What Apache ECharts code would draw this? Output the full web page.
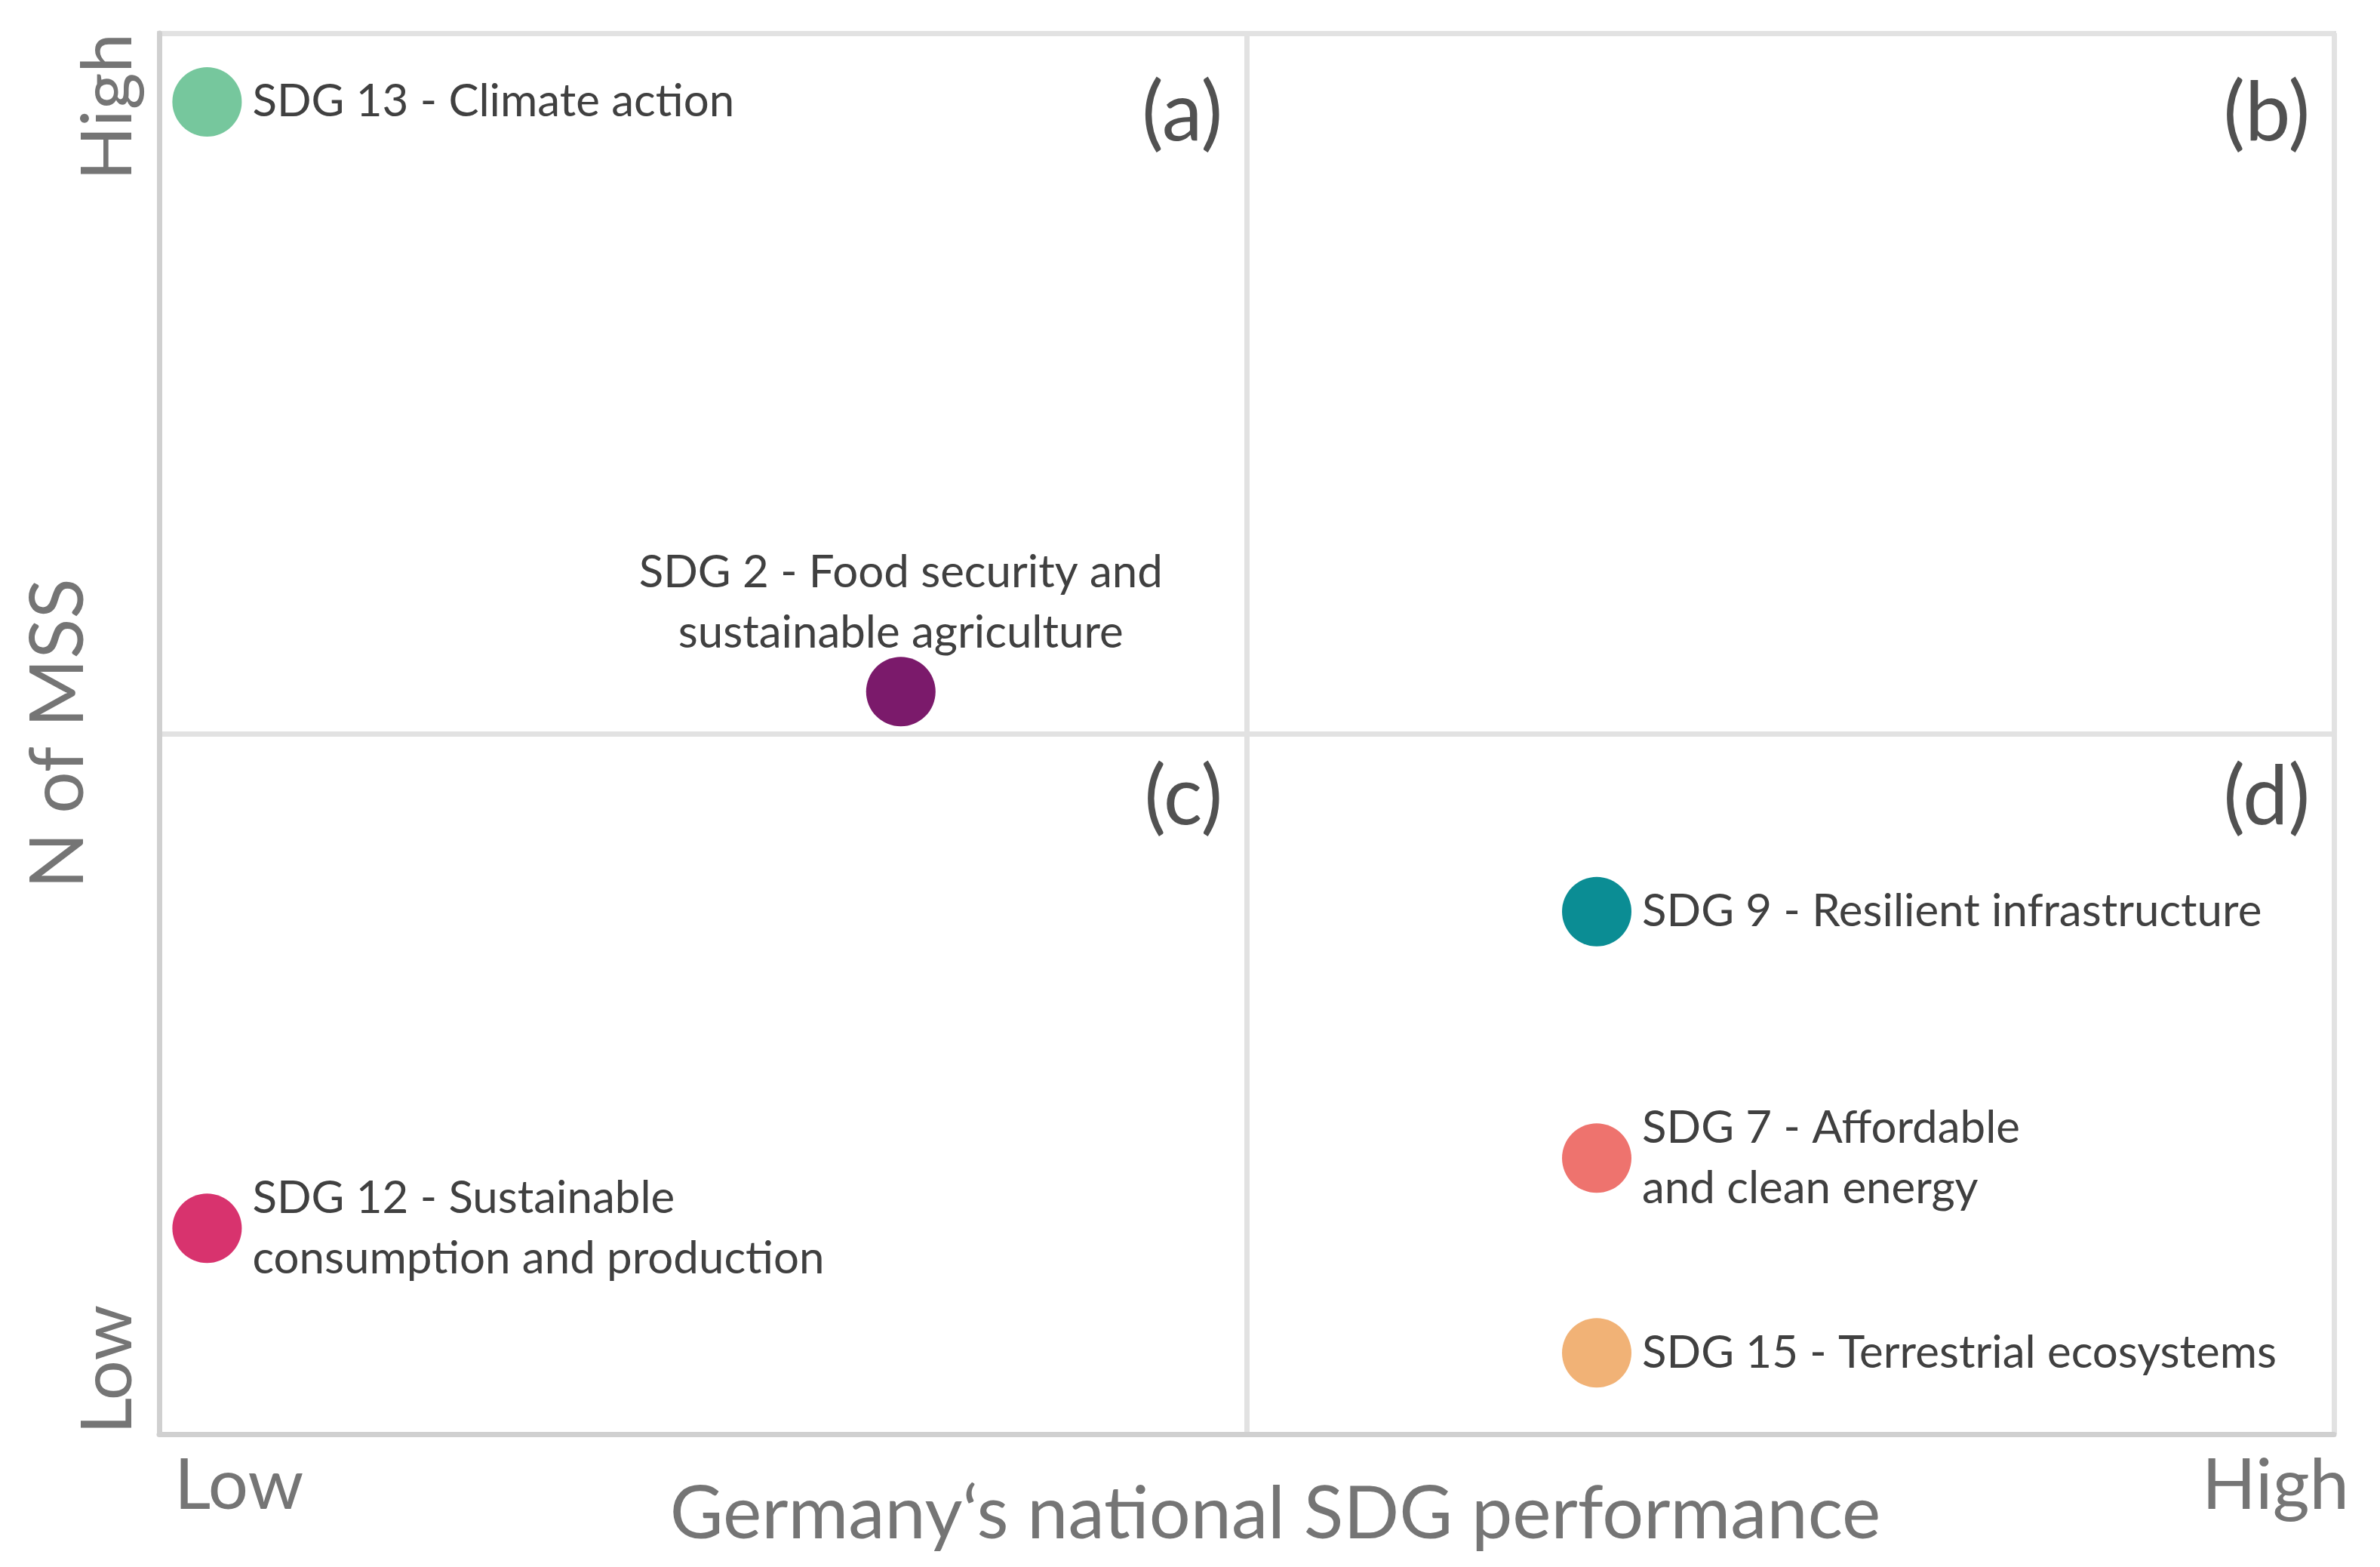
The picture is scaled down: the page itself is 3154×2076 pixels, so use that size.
<!DOCTYPE html>
<html>
<head>
<meta charset="utf-8">
<script src="https://cdn.jsdelivr.net/npm/echarts@6/dist/echarts.min.js"></script>
<style>
html,body{margin:0;padding:0;background:#ffffff;}
#chart{width:3154px;height:2076px;}
</style>
</head>
<body>
<div id="chart"></div>
<script>
// ---- data ----
const sdgLabels = [
  'SDG 13 - Climate action',
  'SDG 2 - Food security and\nsustainable agriculture',
  'SDG 12 - Sustainable\nconsumption and production',
  'SDG 9 - Resilient infrastructure',
  'SDG 7 - Affordable\nand clean energy',
  'SDG 15 - Terrestrial ecosystems'
];
const performance = [2.2, 34.1, 2.2, 66.1, 66.1, 66.1];   // x: Germany's national SDG performance (0 = low, 100 = high)
const nMSS = [95.1, 53.0, 14.7, 37.3, 19.7, 5.8];          // y: N of MSS (0 = low, 100 = high)
const sdgColors = ['#76c79d', '#7b1a6b', '#d8336e', '#0b8d94', '#ee736e', '#f1b276'];
const labelSides = ['right', 'top', 'right', 'right', 'right', 'right'];

const quadrantNames = ['(a)', '(b)', '(c)', '(d)'];
const quadrantX = [48.9, 98.9, 48.9, 98.9];
const quadrantY = [94.2, 94.2, 45.4, 45.4];

const axisLevelLabels = ['Low', 'High'];
const xAxisTitle = 'Germany‘s national SDG performance';
const yAxisTitle = 'N of MSS';

// ---- chart ----
const FONT = 'Lato';
const AXIS_GRAY = '#757575';
const chart = echarts.init(document.getElementById('chart'), null, {renderer: 'canvas'});

const points = performance.map((x, i) => ({
  value: [x, nMSS[i]],
  name: sdgLabels[i],
  itemStyle: {color: sdgColors[i], opacity: 1},
  label: labelSides[i] === 'top'
    ? {position: 'top', align: 'center', distance: -8}
    : {position: 'right', align: 'left', distance: 14}
}));

const quadrants = quadrantNames.map((q, i) => ({value: [quadrantX[i], quadrantY[i]], name: q}));

chart.setOption({
  backgroundColor: '#ffffff',
  animation: false,
  grid: {
    left: 211, right: 61, top: 44, bottom: 176,
    outerBoundsMode: 'none', containLabel: false,
    show: true, borderColor: '#e0e0e0', borderWidth: 6, backgroundColor: 'transparent'
  },
  xAxis: {
    type: 'value', min: 0, max: 100, interval: 50,
    axisLine: {show: true, onZero: false, lineStyle: {color: '#d0d0d0', width: 7}},
    axisTick: {show: false},
    splitLine: {show: true, lineStyle: {color: '#e2e2e2', width: 7}},
    axisLabel: {
      show: true, margin: 22, color: AXIS_GRAY, fontFamily: FONT, fontSize: 94,
      alignMinLabel: 'left', alignMaxLabel: 'right',
      formatter: v => v === 0 ? '{lo|' + axisLevelLabels[0] + '}' : (v === 100 ? '{hi|' + axisLevelLabels[1] + '}' : ''),
      rich: {
        lo: {color: AXIS_GRAY, fontFamily: FONT, fontSize: 94, padding: [0, 0, 0, 20]},
        hi: {color: AXIS_GRAY, fontFamily: FONT, fontSize: 94, padding: [0, -20, 0, 0]}
      }
    },
    name: xAxisTitle, nameLocation: 'middle', nameGap: 58, nameMoveOverlap: false,
    nameTextStyle: {color: AXIS_GRAY, fontFamily: FONT, fontSize: 97, padding: [0, 0, 0, 76]}
  },
  yAxis: {
    type: 'value', min: 0, max: 100, interval: 50,
    axisLine: {show: true, onZero: false, lineStyle: {color: '#d0d0d0', width: 7}},
    axisTick: {show: false},
    splitLine: {show: true, lineStyle: {color: '#e2e2e2', width: 7}},
    axisLabel: {
      show: true, rotate: 90, margin: 20, color: AXIS_GRAY, fontFamily: FONT, fontSize: 94,
      verticalAlign: 'bottom',
      alignMinLabel: 'left', alignMaxLabel: 'right',
      formatter: v => v === 0 ? axisLevelLabels[0] : (v === 100 ? axisLevelLabels[1] : '')
    },
    name: yAxisTitle, nameLocation: 'middle', nameGap: 84, nameRotate: 90, nameMoveOverlap: false,
    nameTextStyle: {color: AXIS_GRAY, fontFamily: FONT, fontSize: 98}
  },
  series: [
    {
      type: 'scatter',
      symbol: 'circle', symbolSize: 92,
      data: points,
      itemStyle: {opacity: 1},
      label: {
        show: true, formatter: p => p.name,
        color: '#404040', fontFamily: FONT, fontSize: 60, lineHeight: 80
      },
      emphasis: {disabled: true},
      z: 3
    },
    {
      type: 'scatter',
      symbolSize: 0,
      data: quadrants,
      silent: true,
      label: {
        show: true, position: 'inside', align: 'right', verticalAlign: 'middle',
        formatter: p => p.name,
        color: '#262626', fontFamily: FONT, fontSize: 108
      },
      z: 2
    }
  ]
});
</script>
</body>
</html>
